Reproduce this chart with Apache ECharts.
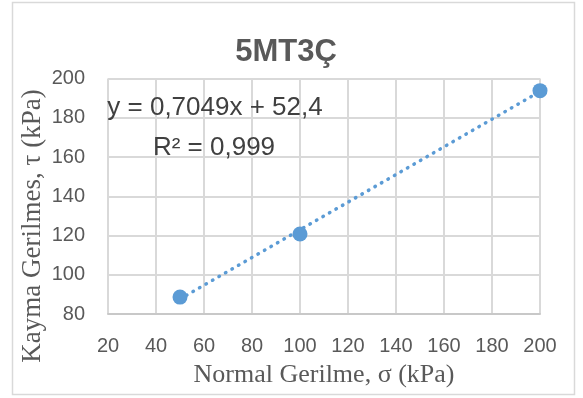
<!DOCTYPE html>
<html>
<head>
<meta charset="utf-8">
<script src="https://cdn.jsdelivr.net/npm/echarts@6/dist/echarts.min.js"></script>
<style>html,body{margin:0;padding:0;background:#fff}#c{width:583px;height:398px}</style>
</head>
<body>
<div id="c"></div>
<script>
const titleText = '5MT3Ç';
const xName = 'Normal Gerilme, σ (kPa)';
const yName = 'Kayma Gerilmes, τ (kPa)';
const sigma = [50, 100, 200];
const tau = [88.6, 120.8, 193.8];
const slope = 0.7049;
const intercept = 52.4;
const eqText = 'y = 0,7049x + 52,4';
const r2Text = 'R² = 0,999';
const xTicks = {min: 20, max: 200, interval: 20};
const yTicks = {min: 80, max: 200, interval: 20};

const xMin = Math.min(...sigma), xMax = Math.max(...sigma);
const trend = [[xMin, slope * xMin + intercept], [xMax, slope * xMax + intercept]];

const chart = echarts.init(document.getElementById('c'));
const tickFont = {color: '#595959', fontSize: 20, fontFamily: 'Liberation Sans, Arial'};
chart.setOption({
  backgroundColor: '#fff',
  animation: false,
  title: {
    text: titleText, left: 281, textAlign: 'center', top: 32,
    textStyle: {fontSize: 31, fontWeight: 'bold', color: '#595959', fontFamily: 'Liberation Sans, Arial'}
  },
  grid: {left: 108, right: 43, top: 78.5, bottom: 84},
  xAxis: {
    type: 'value', min: xTicks.min, max: xTicks.max, interval: xTicks.interval,
    name: xName, nameLocation: 'middle', nameGap: 48,
    nameTextStyle: {fontFamily: 'Liberation Serif, Times New Roman', fontSize: 26, color: '#595959'},
    axisLine: {show: true, lineStyle: {color: '#c8c8c8', width: 2}},
    axisTick: {show: false},
    axisLabel: Object.assign({margin: 22}, tickFont),
    splitLine: {show: true, lineStyle: {color: '#d9d9d9', width: 2}}
  },
  yAxis: {
    type: 'value', min: yTicks.min, max: yTicks.max, interval: yTicks.interval,
    axisLine: {show: false},
    axisTick: {show: false},
    axisLabel: Object.assign({margin: 23}, tickFont),
    splitLine: {show: true, lineStyle: {color: '#d9d9d9', width: 2}}
  },
  graphic: [
    {type: 'rect', shape: {x: 12.5, y: 2.5, width: 562, height: 392}, style: {fill: 'none', stroke: '#d9d9d9', lineWidth: 1.5}, silent: true, z: -1},
    {type: 'text', x: 33, y: 226, rotation: Math.PI / 2,
     style: {text: yName, align: 'center', verticalAlign: 'middle', fill: '#595959', font: '27px "Liberation Serif", "Times New Roman"'}},
    {type: 'text', x: 215, y: 108, z: 10,
     style: {text: eqText, align: 'center', verticalAlign: 'middle', fill: '#404040', font: '26px "Liberation Sans", Arial'}},
    {type: 'text', x: 214, y: 148, z: 10,
     style: {text: r2Text, align: 'center', verticalAlign: 'middle', fill: '#404040', font: '26px "Liberation Sans", Arial'}}
  ],
  series: [
    {
      type: 'line', data: trend, symbol: 'none', silent: true, z: 2,
      lineStyle: {color: '#5b9bd5', width: 3.5, type: [0.5, 7], cap: 'round'}
    },
    {
      type: 'scatter', data: sigma.map((s, i) => [s, tau[i]]), symbolSize: 15, z: 3,
      itemStyle: {color: '#5b9bd5', opacity: 1}
    }
  ]
});
</script>
</body>
</html>
